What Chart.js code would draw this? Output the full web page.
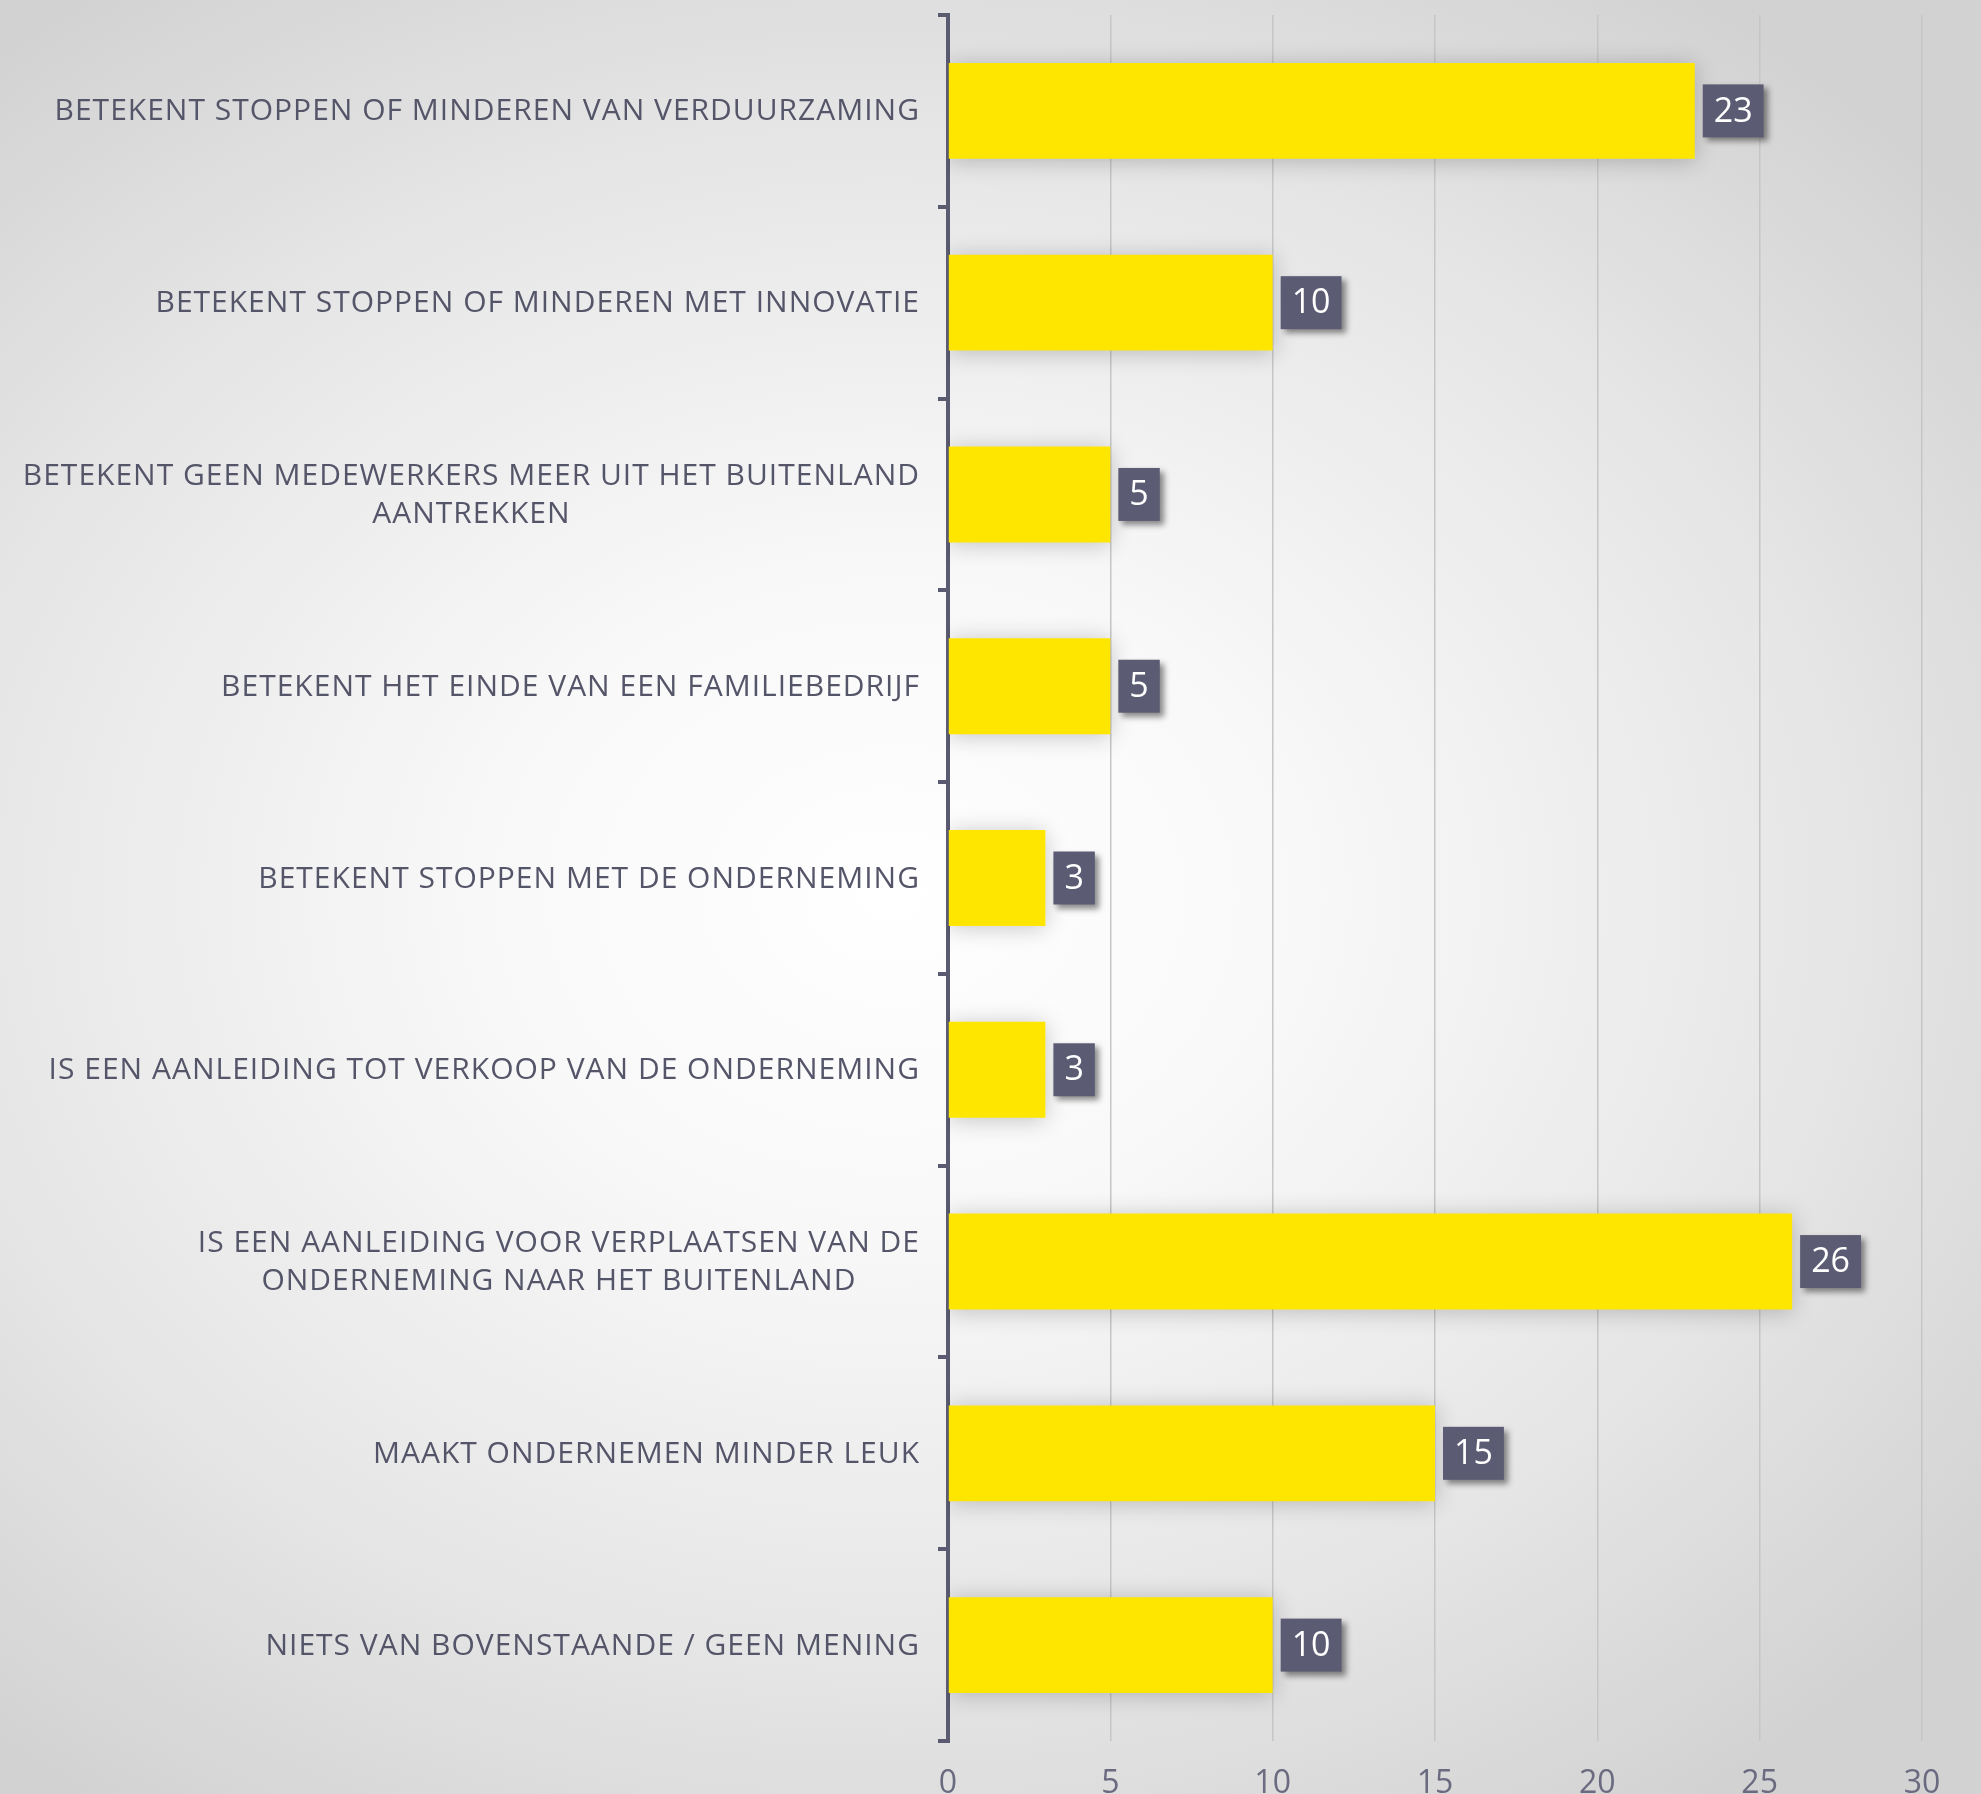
<!DOCTYPE html>
<html lang="nl">
<head>
    <meta charset="UTF-8">
    <title>Gevolgen</title>
    <script src="https://cdn.jsdelivr.net/npm/chart.js"></script>
    <style>
        html, body {
            margin: 0;
            padding: 0;
            width: 1981px;
            height: 1794px;
            overflow: hidden;
        }
        body {
            background: radial-gradient(ellipse 70% 62% at 45% 50%, #ffffff 0%, #f8f8f8 30%, #e6e6e6 68%, #d2d2d2 100%);
        }
        #wrap {
            position: relative;
            width: 1981px;
            height: 1794px;
        }
    </style>
</head>
<body>
    <div id="wrap">
        <canvas id="grafiek" width="1981" height="1794"></canvas>
    </div>
    <script>
        // categorieen (van boven naar beneden)
        const categorieen = [
            ['BETEKENT STOPPEN OF MINDEREN VAN VERDUURZAMING'],
            ['BETEKENT STOPPEN OF MINDEREN MET INNOVATIE'],
            ['BETEKENT GEEN MEDEWERKERS MEER UIT HET BUITENLAND', 'AANTREKKEN'],
            ['BETEKENT HET EINDE VAN EEN FAMILIEBEDRIJF'],
            ['BETEKENT STOPPEN MET DE ONDERNEMING'],
            ['IS EEN AANLEIDING TOT VERKOOP VAN DE ONDERNEMING'],
            ['IS EEN AANLEIDING VOOR VERPLAATSEN VAN DE', 'ONDERNEMING NAAR HET BUITENLAND'],
            ['MAAKT ONDERNEMEN MINDER LEUK'],
            ['NIETS VAN BOVENSTAANDE / GEEN MENING']
        ];
        const waarden = [23, 10, 5, 5, 3, 3, 26, 15, 10];
        const xTicks = [0, 5, 10, 15, 20, 25, 30];

        const tekstKleur = '#55556a';
        const asKleur = '#5a5a70';

        // schaduw achter de balken
        const balkSchaduw = {
            id: 'balkSchaduw',
            beforeDatasetsDraw(chart) {
                const ctx = chart.ctx;
                ctx.save();
                ctx.shadowColor = 'rgba(0,0,0,0.22)';
                ctx.shadowBlur = 22;
                ctx.shadowOffsetY = 2;
            },
            afterDatasetsDraw(chart) {
                chart.ctx.restore();
            }
        };

        // labels links: rechts uitgelijnd, meerdere regels onderling gecentreerd
        const yLabels = {
            id: 'yLabels',
            afterDraw(chart) {
                const ctx = chart.ctx;
                const y = chart.scales.y;
                const rechts = y.right - 28;
                ctx.save();
                ctx.font = '30px "Open Sans"';
                ctx.letterSpacing = '1px';
                ctx.fillStyle = tekstKleur;
                ctx.textAlign = 'center';
                ctx.textBaseline = 'middle';
                const regel = 38;
                categorieen.forEach((lab, i) => {
                    const yc = y.getPixelForValue(i);
                    let breed = 0;
                    lab.forEach(t => { breed = Math.max(breed, ctx.measureText(t).width); });
                    const xc = rechts - breed / 2;
                    const start = yc - (lab.length - 1) * regel / 2;
                    lab.forEach((t, k) => ctx.fillText(t, xc, start + k * regel + 1));
                });
                ctx.restore();
            }
        };

        // waardelabels in donkere blokjes
        const waardeLabels = {
            id: 'waardeLabels',
            afterDatasetsDraw(chart) {
                const ctx = chart.ctx;
                const meta = chart.getDatasetMeta(0);
                ctx.save();
                ctx.font = '34px "Open Sans"';
                ctx.textAlign = 'center';
                ctx.textBaseline = 'middle';
                meta.data.forEach((bar, i) => {
                    const t = String(waarden[i]);
                    const w = ctx.measureText(t).width + 22;
                    const h = 53;
                    const x0 = bar.x + 8;
                    const y0 = bar.y - h / 2;
                    ctx.save();
                    ctx.shadowColor = 'rgba(0,0,0,0.45)';
                    ctx.shadowBlur = 6;
                    ctx.shadowOffsetX = 4;
                    ctx.shadowOffsetY = 4;
                    ctx.fillStyle = '#5b5b73';
                    ctx.fillRect(x0, y0, w, h);
                    ctx.restore();
                    ctx.fillStyle = '#ffffff';
                    ctx.fillText(t, x0 + w / 2, bar.y + 1);
                });
                ctx.restore();
            }
        };

        const ctx = document.getElementById('grafiek').getContext('2d');
        const grafiek = new Chart(ctx, {
            type: 'bar',
            data: {
                labels: categorieen,
                datasets: [{
                    data: waarden,
                    backgroundColor: '#ffe600',
                    borderWidth: 0,
                    barPercentage: 0.5,
                    categoryPercentage: 1
                }]
            },
            options: {
                indexAxis: 'y',
                responsive: false,
                devicePixelRatio: 1,
                animation: false,
                layout: { padding: { top: 15, right: 59, left: 0, bottom: 0 } },
                plugins: {
                    legend: { display: false },
                    tooltip: { enabled: false }
                },
                scales: {
                    x: {
                        min: 0,
                        max: 30,
                        afterBuildTicks(scale) {
                            scale.ticks = xTicks.map(v => ({ value: v }));
                        },
                        afterFit(scale) { scale.height = 53; },
                        grid: {
                            color: '#c6c6c6',
                            lineWidth: 1.5,
                            drawTicks: false
                        },
                        border: { display: false },
                        ticks: {
                            color: '#6a6a80',
                            font: { family: 'Open Sans', size: 32 },
                            padding: 24
                        }
                    },
                    y: {
                        type: 'category',
                        offset: true,
                        afterFit(scale) { scale.width = 948; },
                        grid: {
                            offset: true,
                            drawOnChartArea: false,
                            tickLength: 10,
                            lineWidth: 4,
                            color: asKleur
                        },
                        border: { display: true, color: asKleur, width: 4 },
                        ticks: { display: false }
                    }
                }
            },
            plugins: [balkSchaduw, waardeLabels, yLabels]
        });
    </script>
</body>
</html>
